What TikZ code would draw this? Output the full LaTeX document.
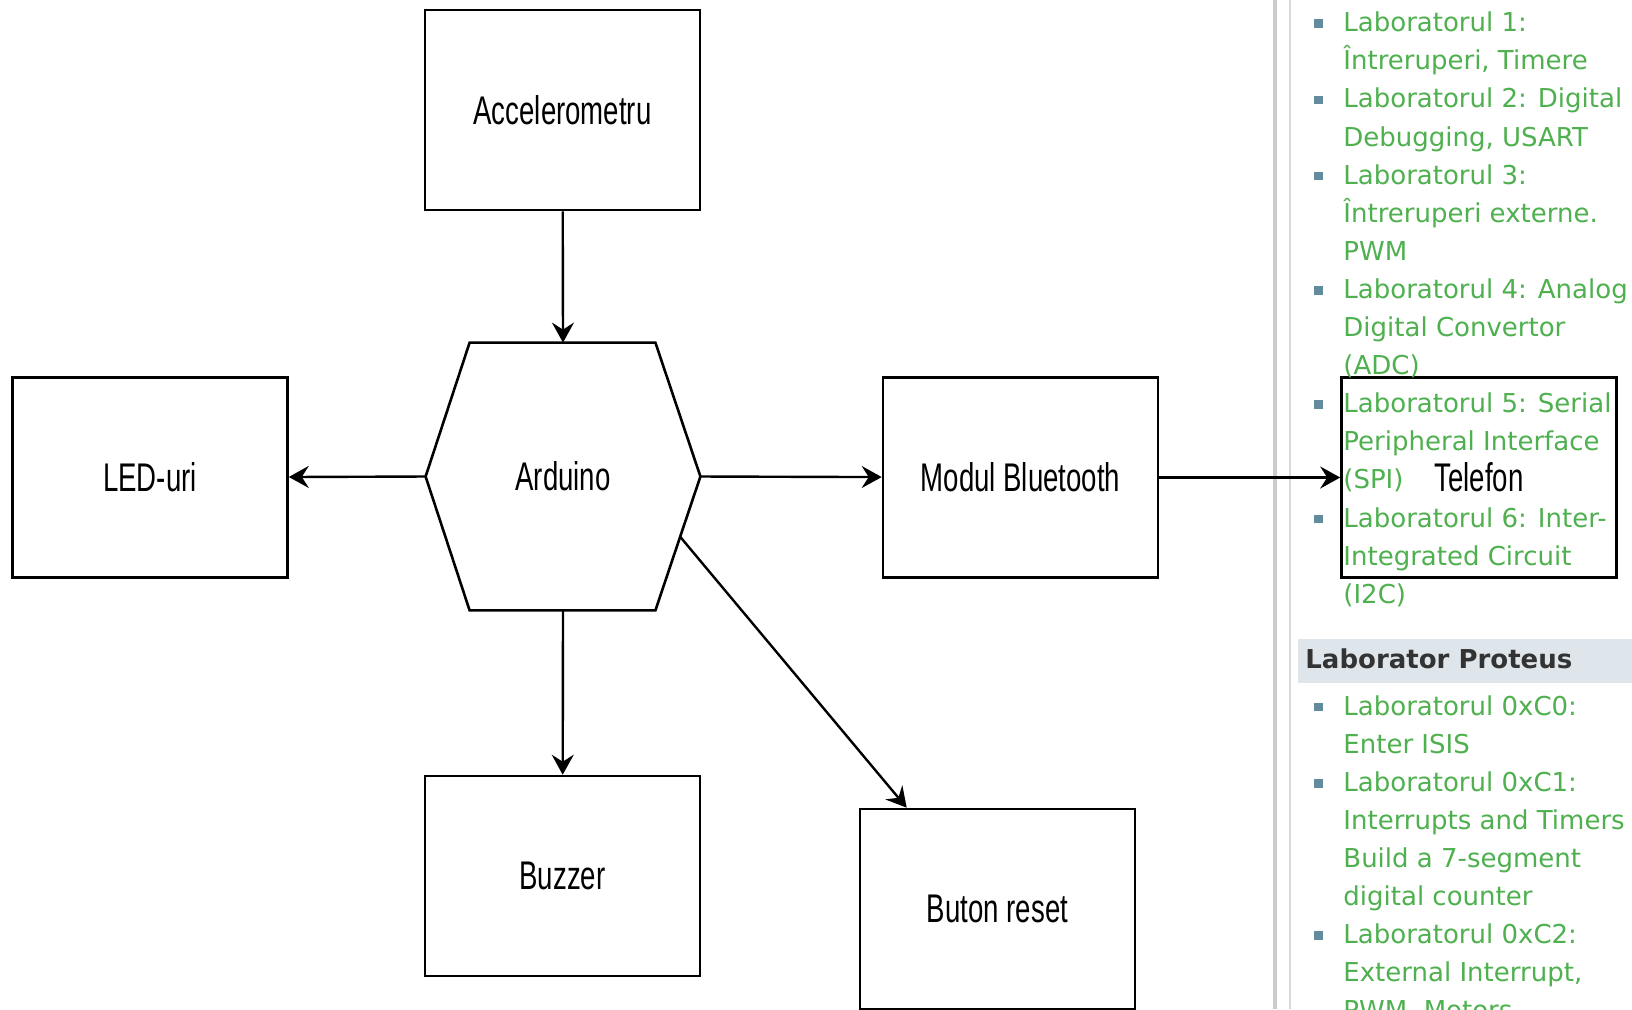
\documentclass[tikz,border=0pt]{standalone}
\usepackage{fontspec}
\usepackage{graphicx}
\setmainfont{Liberation Sans}
\newfontfamily\sidefont{DejaVu Sans}
\usetikzlibrary{arrows.meta,calc}

\definecolor{linkgreen}{RGB}{78,176,78}
\definecolor{bulletblue}{RGB}{99,139,158}
\definecolor{headbg}{RGB}{222,230,235}
\definecolor{headtext}{RGB}{51,51,51}
\definecolor{sidegray}{RGB}{204,204,204}

\newcommand{\lbl}[1]{\scalebox{0.69}[1]{#1}}

\begin{document}
\begin{tikzpicture}[x=0.5pt,y=-0.5pt,
    box/.style={draw,line width=1.3pt,fill=white,minimum width=137.5pt,
      minimum height=100pt,inner sep=0pt,font=\fontsize{20}{24}\selectfont},
    hexa/.style={minimum width=137pt,minimum height=133.5pt,inner sep=0pt,
      font=\fontsize{20}{24}\selectfont},
    conn/.style={line width=1.2pt,-{Stealth[length=10pt,width=11pt,inset=3.5pt]}},
    item/.style={anchor=base west,inner sep=0pt,text=linkgreen,
      font=\sidefont\fontsize{13}{19}\selectfont},
    bullet/.style={fill=bulletblue,minimum size=4.3pt,inner sep=0pt}]
  \useasboundingbox[fill=white] (0,0) rectangle (1632,1009);

  % sidebar rules
  \draw[line width=1.6pt,sidegray] (1275,0) -- (1275,1009);
  \draw[line width=1pt,sidegray!75] (1289.7,0) -- (1289.7,1009);

  % block diagram
  \node[box]  (acc) at (562.5,110)   {\lbl{Accelerometru}};
  \node[hexa] (ard) at (563,476.5)   {\lbl{Arduino}};
  \node[box]  (led) at (150,477.5)   {\lbl{LED-uri}};
  \node[box]  (blu) at (1020.5,477.5) {\lbl{Modul Bluetooth}};
  \node[box]  (tel) at (1479,477.5)  {\lbl{Telefon}};
  \node[box]  (buz) at (562.5,876)   {\lbl{Buzzer}};
  \node[box]  (btn) at (997.5,909)   {\lbl{Buton reset}};

  \coordinate (hexbr) at ($(ard.south east)+(-45,0)$);
  \draw[line width=1.3pt] ($(ard.north west)+(44,0)$) -- ($(ard.north east)+(-45,0)$)
    -- (ard.east) -- (hexbr) -- ($(ard.south west)+(44,0)$) -- (ard.west) -- cycle;

  \draw[conn] (acc) -- (ard.north);
  \draw[conn] (ard.west) -- (led);
  \draw[conn] (ard.east) -- (blu);
  \draw[conn] (blu) -- (tel);
  \draw[conn] (ard.south) -- (buz);
  \draw[conn] ($(ard.east)!0.45!(hexbr)$) -- ($(btn.north west)+(48,0)$);

  % sidebar: labs
  \foreach \txt [count=\i from 0] in {{Laboratorul 1:},{Întreruperi, Timere},
      {Laboratorul 2: Digital},{Debugging, USART},{Laboratorul 3:},
      {Întreruperi externe.},PWM,{Laboratorul 4: Analog},{Digital Convertor},
      (ADC),{Laboratorul 5: Serial},{Peripheral Interface},(SPI),
      {Laboratorul 6: Inter-},{Integrated Circuit},(I2C)}
    \node[item] (a\i) at (1343,31.7+38.1*\i) {\txt};
  \foreach \i in {0,2,4,7,10,13}
    \node[bullet] (ba\i) at (1318.5,23.7+38.1*\i) {};

  % sidebar: proteus
  \fill[headbg] (1298,639) rectangle (1632,683);
  \node[anchor=base west,inner sep=0pt,text=headtext,
    font=\sidefont\bfseries\fontsize{13}{19}\selectfont] (head) at (1305,668) {Laborator Proteus};
  \foreach \txt [count=\i from 0] in {{Laboratorul 0xC0:},{Enter ISIS},
      {Laboratorul 0xC1:},{Interrupts and Timers},{Build a 7-segment},
      {digital counter},{Laboratorul 0xC2:},{External Interrupt,},{PWM, Motors}}
    \node[item] (p\i) at (1343,715+38.1*\i) {\txt};
  \foreach \i in {0,2,6}
    \node[bullet] (bp\i) at (1318.5,707+38.1*\i) {};
\end{tikzpicture}
\end{document}
